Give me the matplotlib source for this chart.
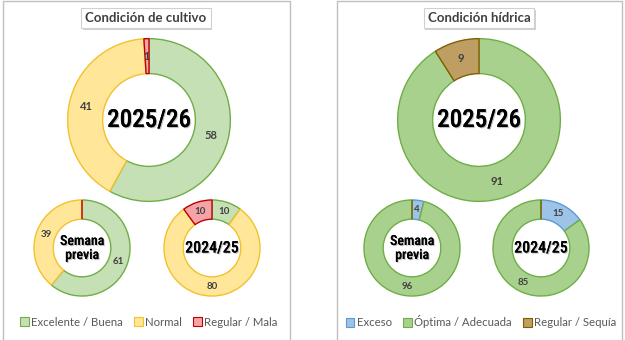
import matplotlib.pyplot as plt
import matplotlib.patheffects as pe
from matplotlib.patches import Patch, Rectangle

W, H = 625, 340

# Condición de cultivo: Excelente/Buena, Normal, Regular/Mala
cultivo_labels = ["Excelente / Buena", "Normal", "Regular / Mala"]
cultivo_actual = [58, 41, 1]
cultivo_previa = [61, 39, 0]
cultivo_anterior = [10, 80, 10]

# Condición hídrica: Exceso, Óptima/Adecuada, Regular/Sequía
hidrica_labels = ["Exceso", "Óptima / Adecuada", "Regular / Sequía"]
hidrica_actual = [0, 91, 9]
hidrica_previa = [4, 96, 0]
hidrica_anterior = [15, 85, 0]

cultivo_fill = ["#c5e0b4", "#ffe699", "#f4a3a8"]
cultivo_edge = ["#70ad47", "#f2c12e", "#c00000"]
hidrica_fill = ["#9dc3e6", "#a9d18e", "#bf9e63"]
hidrica_edge = ["#5b9bd5", "#70ad47", "#7f6000"]

TEXT = "#404040"
CENTER_FONT = ["Roboto Condensed", "DejaVu Sans"]


def px_axes(fig, cx, cy, r):
    return fig.add_axes([(cx - r) / W, (H - cy - r) / H, 2 * r / W, 2 * r / H])


def donut(fig, cx, cy, r, values, fills, edges, width, center_text, center_size, label_size):
    ax = px_axes(fig, cx, cy, r)
    mid = 1 - width / 2
    wedges, _, autotexts = ax.pie(
        values, colors=fills, startangle=90, counterclock=False, radius=1,
        wedgeprops=dict(width=width, linewidth=1.0),
        autopct=lambda p: f"{p:.0f}" if p > 0.5 else "", pctdistance=mid,
        textprops=dict(color=TEXT, fontsize=label_size, fontweight="bold", family="Lato"),
    )
    for w, ec in zip(wedges, edges):
        w.set_edgecolor(ec)
    ax.set_xlim(-1.02, 1.02)
    ax.set_ylim(-1.02, 1.02)
    ax.set_aspect("auto")
    ax.text(0, 0, center_text, ha="center", va="center", fontsize=center_size,
            fontweight="medium", family=CENTER_FONT, color="black", linespacing=1.0,
            path_effects=[pe.withSimplePatchShadow(offset=(0.8, -0.8), alpha=0.25), pe.Normal()])
    return ax


def panel(fig, x0, x1, title, title_x, actual, previa, anterior, fills, edges, labels, legend_x, centers):
    fig.patches.append(Rectangle((x0 / W, -0.1), (x1 - x0) / W, 1.1 - 1.5 / H,
                                 transform=fig.transFigure, fill=False,
                                 edgecolor="#bfbfbf", linewidth=1.0))
    (bx, by), (sx, sy), (ax_, ay) = centers
    donut(fig, bx, by, 83, actual, fills, edges, 0.43, "2025/26", 18, 8)
    donut(fig, sx, sy, 49, previa, fills, edges, 0.40, "Semana\nprevia", 10, 7)
    donut(fig, ax_, ay, 49, anterior, fills, edges, 0.40, "2024/25", 11.5, 7)
    fig.text(title_x / W, 1 - 18 / H, title, ha="center", va="center", fontsize=9.5,
             family="Lato", fontweight="bold", color="#404040",
             bbox=dict(boxstyle="square,pad=0.3", facecolor="white", edgecolor="#d0d0d0",
                       linewidth=0.8,
                       path_effects=[pe.withSimplePatchShadow(offset=(1.2, -1.2), alpha=0.25)]))
    handles = [Patch(facecolor=f, edgecolor=e, linewidth=0.8) for f, e in zip(fills, edges)]
    fig.legend(handles, labels, loc="center", bbox_to_anchor=(legend_x / W, 1 - 322 / H),
               ncol=3, frameon=False, prop=dict(family="Lato", size=8.2),
               labelcolor="#595959", handlelength=0.75, handleheight=0.75,
               handletextpad=0.2, columnspacing=1.0)


fig = plt.figure(figsize=(W / 100, H / 100), dpi=100)
fig.patch.set_facecolor("white")

panel(fig, 3, 290, "Condición de cultivo", 146, cultivo_actual, cultivo_previa, cultivo_anterior,
      cultivo_fill, cultivo_edge, cultivo_labels, 149,
      [(149, 120), (82, 248), (212, 248)])
panel(fig, 337, 622, "Condición hídrica", 479, hidrica_actual, hidrica_previa, hidrica_anterior,
      hidrica_fill, hidrica_edge, hidrica_labels, 481,
      [(479, 120), (412, 248), (541, 248)])

fig.savefig("out.png", dpi=100)
